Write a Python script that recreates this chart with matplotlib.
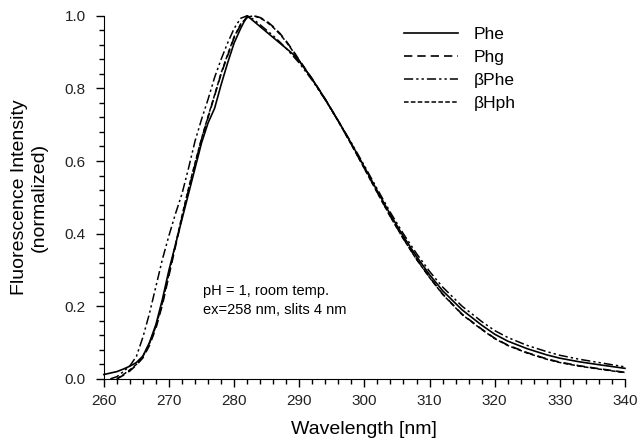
import matplotlib
matplotlib.use("Agg")
import matplotlib.pyplot as plt
from matplotlib.ticker import MultipleLocator

plt.rcParams['font.family'] = ['Liberation Sans', 'DejaVu Sans']

# wavelengths (nm) and normalized intensities
wl_phe = [260, 261, 262, 263, 264, 265, 266, 267, 268, 269, 270, 271, 272, 273, 274,
          275, 276, 277, 278, 279, 280, 281, 282, 283, 284, 285, 286, 287, 288, 289,
          290, 292, 294, 296, 298, 300, 302, 304, 306, 308, 310, 312, 315, 318, 320,
          322, 325, 328, 330, 333, 336, 340]
phe = [0.012, 0.016, 0.02, 0.027, 0.035, 0.045, 0.063, 0.10, 0.15, 0.22, 0.30, 0.37,
       0.44, 0.51, 0.58, 0.65, 0.705, 0.745, 0.81, 0.87, 0.925, 0.965, 1.0, 0.985,
       0.97, 0.955, 0.94, 0.925, 0.91, 0.895, 0.875, 0.825, 0.77, 0.71, 0.648, 0.583,
       0.517, 0.452, 0.392, 0.337, 0.287, 0.243, 0.19, 0.148, 0.123, 0.104, 0.083,
       0.066, 0.057, 0.047, 0.039, 0.029]

wl_phg = [262, 263, 264, 265, 266, 267, 268, 269, 270, 271, 272, 273, 274, 275, 276,
          277, 278, 279, 280, 281, 282, 283, 284, 285, 286, 287, 288, 289, 290, 292,
          294, 296, 298, 300, 302, 304, 306, 308, 310, 312, 315, 318, 320, 322, 325,
          328, 330, 333, 336, 340]
phg = [0.0, 0.01, 0.022, 0.038, 0.058, 0.092, 0.14, 0.205, 0.285, 0.365, 0.445, 0.52,
       0.59, 0.66, 0.72, 0.78, 0.84, 0.89, 0.94, 0.975, 0.995, 1.0, 0.995, 0.985, 0.97,
       0.952, 0.93, 0.905, 0.878, 0.826, 0.77, 0.71, 0.646, 0.58, 0.513, 0.447, 0.386,
       0.33, 0.28, 0.234, 0.178, 0.137, 0.112, 0.093, 0.072, 0.055, 0.046, 0.036,
       0.028, 0.018]

wl_bphe = [261, 262, 263, 264, 265, 266, 267, 268, 269, 270, 271, 272, 273, 274, 275,
           276, 277, 278, 279, 280, 281, 282, 283, 284, 285, 286, 287, 288, 289, 290,
           292, 294, 296, 298, 300, 302, 304, 306, 308, 310, 312, 315, 318, 320, 322,
           325, 328, 330, 333, 336, 340]
bphe = [0.0, 0.006, 0.02, 0.036, 0.062, 0.115, 0.18, 0.255, 0.33, 0.395, 0.455, 0.51,
        0.58, 0.655, 0.715, 0.77, 0.83, 0.88, 0.925, 0.965, 0.993, 1.0, 0.99, 0.975,
        0.96, 0.945, 0.928, 0.91, 0.89, 0.87, 0.822, 0.768, 0.71, 0.65, 0.587, 0.522,
        0.458, 0.399, 0.345, 0.296, 0.253, 0.2, 0.158, 0.133, 0.114, 0.092, 0.075,
        0.065, 0.054, 0.045, 0.033]

wl_bhph = [262, 263, 264, 265, 266, 267, 268, 269, 270, 271, 272, 273, 274, 275, 276,
           277, 278, 279, 280, 281, 282, 283, 284, 285, 286, 287, 288, 289, 290, 292,
           294, 296, 298, 300, 302, 304, 306, 308, 310, 312, 315, 318, 320, 322, 325,
           328, 330, 333, 336, 340]
bhph = [0.0, 0.012, 0.025, 0.04, 0.062, 0.097, 0.145, 0.21, 0.29, 0.37, 0.45, 0.525,
        0.595, 0.662, 0.723, 0.782, 0.842, 0.893, 0.942, 0.977, 0.996, 1.0, 0.994,
        0.983, 0.968, 0.95, 0.928, 0.903, 0.877, 0.825, 0.769, 0.709, 0.645, 0.579,
        0.512, 0.446, 0.385, 0.329, 0.279, 0.233, 0.177, 0.136, 0.111, 0.092, 0.071,
        0.054, 0.045, 0.035, 0.027, 0.017]

fig = plt.figure(figsize=(6.41, 4.38), dpi=100)
ax = fig.add_axes([0.162, 0.135, 0.813, 0.829])

ax.plot(wl_phe, phe, color='black', lw=1.2, ls='-', label='Phe', clip_on=False)
ax.plot(wl_phg, phg, color='black', lw=1.2, ls=(0, (5, 3)), label='Phg', clip_on=False)
ax.plot(wl_bphe, bphe, color='black', lw=1.1, ls=(0, (6, 2, 1.5, 2, 1.5, 2)),
        label='βPhe', clip_on=False)
ax.plot(wl_bhph, bhph, color='black', lw=1.1, ls=(0, (3, 1.5)), label='βHph',
        clip_on=False)

ax.set_xlim(260, 340)
ax.set_ylim(0, 1.0)
ax.xaxis.set_major_locator(MultipleLocator(10))
ax.xaxis.set_minor_locator(MultipleLocator(2))
ax.yaxis.set_major_locator(MultipleLocator(0.2))
ax.yaxis.set_minor_locator(MultipleLocator(0.04))
ax.yaxis.set_major_formatter(matplotlib.ticker.FormatStrFormatter('%.1f'))

for s in ('top', 'right'):
    ax.spines[s].set_visible(False)
ax.tick_params(which='major', direction='out', length=6, width=1, labelsize=11,
               labelcolor='#222222', pad=5)
ax.tick_params(axis='y', which='major', pad=7)
ax.tick_params(which='minor', direction='out', length=3.5, width=1)

ax.set_xlabel('Wavelength [nm]', fontsize=14, labelpad=9)
ax.set_ylabel('Fluorescence Intensity\n(normalized)', fontsize=14, labelpad=12)

ax.text(275.2, 0.262, 'pH = 1, room temp.\nex=258 nm, slits 4 nm', fontsize=10.5,
        va='top', ha='left', linespacing=1.45)

ax.legend(loc='upper right', frameon=False, fontsize=12.5, handlelength=3.1,
          handletextpad=0.9, labelspacing=0.45, bbox_to_anchor=(0.82, 1.012))

fig.savefig('out.png', dpi=100)
